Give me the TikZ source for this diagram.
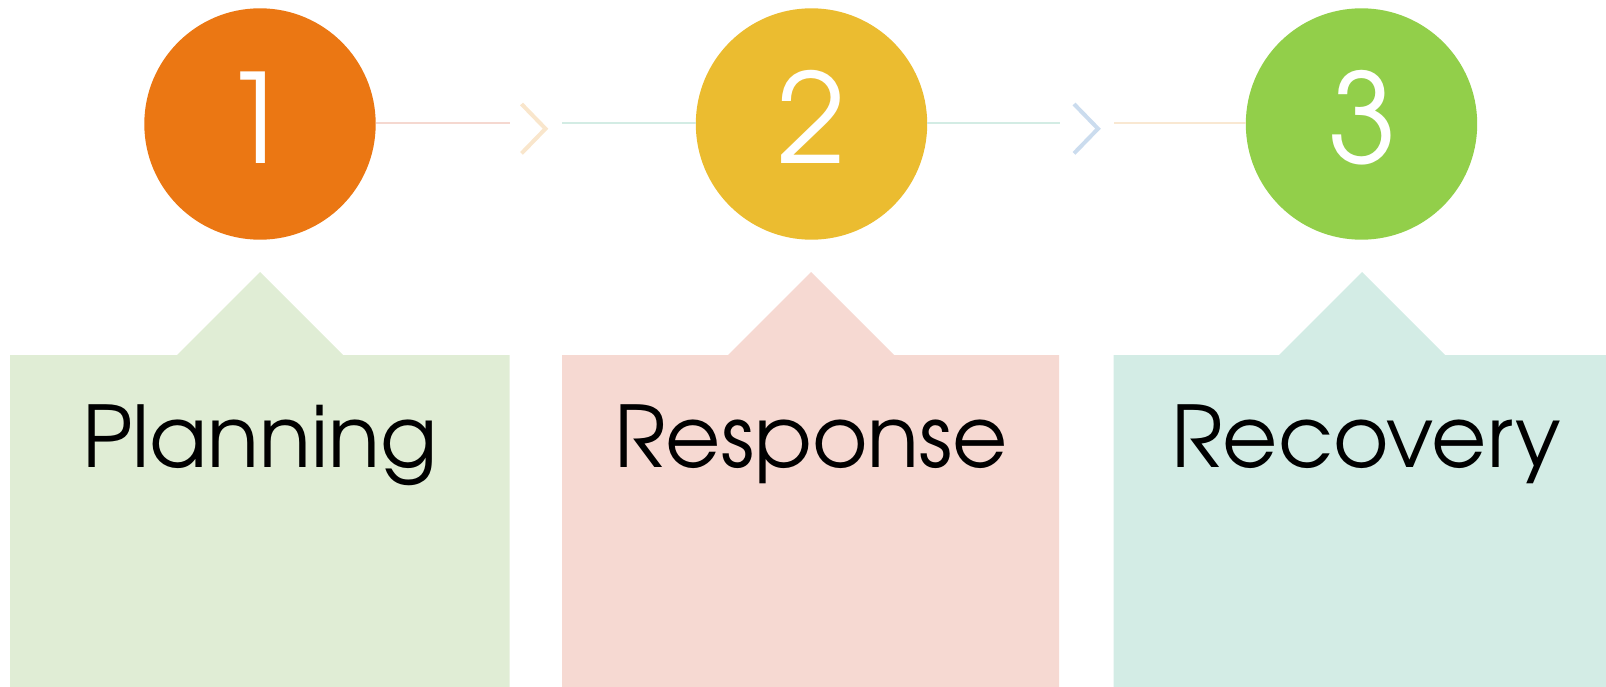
\documentclass[tikz,border=0pt]{standalone}
\usepackage{fontspec}
\setmainfont{TeX Gyre Adventor}
\definecolor{cOne}{HTML}{EB7713}
\definecolor{cTwo}{HTML}{EBBC30}
\definecolor{cThree}{HTML}{92CF4A}
\definecolor{bOne}{HTML}{E0EDD5}
\definecolor{bTwo}{HTML}{F6D9D2}
\definecolor{bThree}{HTML}{D3ECE5}
\definecolor{lnPink}{HTML}{F5D8D0}
\definecolor{lnTeal}{HTML}{D3ECE4}
\definecolor{lnOrange}{HTML}{F9E8D2}
\definecolor{chOrange}{HTML}{F9E6CC}
\definecolor{chBlue}{HTML}{CBDCEE}
\tikzset{
  stepcircle/.style={circle, inner sep=0pt, minimum size=231.4pt},
  numtext/.style={anchor=base, text=white, inner sep=0pt, font=\fontsize{124}{130}\selectfont},
  labeltext/.style={anchor=base, text=black, inner sep=0pt, font=\fontsize{85}{96}\selectfont},
  connline/.style={line width=2pt},
  chevline/.style={line width=4pt, line join=miter}
}
\begin{document}
\begin{tikzpicture}[x=1pt,y=-1pt]
\useasboundingbox (0,0) rectangle (1606,687);
% boxes
\fill[bOne] (10,687) -- (10,355) -- (177,355) -- (260,272) -- (343,355) -- (509.5,355) -- (509.5,687) -- cycle;
\fill[bTwo] (562,687) -- (562,355) -- (728,355) -- (811,272) -- (894,355) -- (1059,355) -- (1059,687) -- cycle;
\fill[bThree] (1113.5,687) -- (1113.5,355) -- (1279,355) -- (1362,272) -- (1445,355) -- (1612,355) -- (1612,687) -- cycle;
% labels
\node[labeltext] (l1) at (260,467) {Planning};
\node[labeltext] (l2) at (811,467) {Response};
\node[labeltext] (l3) at (1366,467) {Recovery};
% circles
\node[stepcircle, fill=cOne] (c1) at (260,124) {};
\node[stepcircle, fill=cTwo] (c2) at (811.5,124) {};
\node[stepcircle, fill=cThree] (c3) at (1361.5,124) {};
\node[numtext] (n1) at (256,164) {1};
\node[numtext] (n2) at (812,164) {2};
\node[numtext] (n3) at (1363,164) {3};
% connectors
\coordinate (e1) at (509.5,123);
\coordinate (s2) at (562,123);
\coordinate (e2) at (1059.5,123);
\coordinate (s3) at (1114,123);
\draw[connline, lnPink] (e1 -| c1.east) -- (e1);
\draw[connline, lnTeal] (s2) -- (s2 -| c2.west);
\draw[connline, lnTeal] (e2 -| c2.east) -- (e2);
\draw[connline, lnOrange] (s3) -- (s3 -| c3.west);
% chevrons
\coordinate (ch1a) at (521.5,104);
\coordinate (ch1b) at (545.5,128.7);
\coordinate (ch1c) at (521.5,153.4);
\coordinate (ch2a) at (1074,104);
\coordinate (ch2b) at (1098,128.7);
\coordinate (ch2c) at (1074,153.4);
\draw[chevline, chOrange] (ch1a) -- (ch1b) -- (ch1c);
\draw[chevline, chBlue] (ch2a) -- (ch2b) -- (ch2c);
\end{tikzpicture}
\end{document}
